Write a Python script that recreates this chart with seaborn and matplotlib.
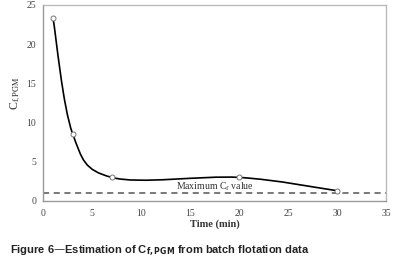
import numpy as np
import pandas as pd
import matplotlib
matplotlib.use("Agg")
import matplotlib.pyplot as plt
from matplotlib.path import Path
from matplotlib.patches import PathPatch
import seaborn as sns

# data
tiempo = [1, 3, 7, 20, 30]
cf_pgm = [23.4, 8.6, 3.0, 3.0, 1.3]
cf_max = 1.0
x_ticks = [0, 5, 10, 15, 20, 25, 30, 35]
y_ticks = [0, 5, 10, 15, 20, 25]

df = pd.DataFrame({"t": tiempo, "cf": cf_pgm})

sns.set_style("white")
plt.rcParams["font.family"] = ["Liberation Serif", "DejaVu Serif"]
plt.rcParams["mathtext.fontset"] = "stix"

fig = plt.figure(figsize=(3.96, 2.76), dpi=100)
ax = fig.add_axes([0.109, 0.272, 0.866, 0.71])


# smooth line like Excel (bezier with 1/6 tangents)
def curva_suave(xs, ys):
    p = np.column_stack([xs, ys]).astype(float)
    n = len(p)
    verts = [p[0]]
    codes = [Path.MOVETO]
    for i in range(n - 1):
        p0 = p[i - 1] if i > 0 else p[i]
        p3 = p[i + 2] if i + 2 < n else p[i + 1]
        c1 = p[i] + (p[i + 1] - p0) / 6
        c2 = p[i + 1] - (p3 - p[i]) / 6
        verts += [c1, c2, p[i + 1]]
        codes += [Path.CURVE4] * 3
    return Path(verts, codes)


ax.add_patch(PathPatch(curva_suave(tiempo, cf_pgm), facecolor="none",
                       edgecolor="black", lw=1.2, zorder=3))
sns.scatterplot(data=df, x="t", y="cf", ax=ax, marker="o", s=13,
                facecolor="white", edgecolor="#777777", linewidth=0.7, zorder=4)

ax.axhline(cf_max, color="#555555", lw=1.1, ls=(0, (4, 3)), zorder=2)
ax.text(17.5, cf_max + 0.05, "Maximum C$_\\mathrm{f}$ value", ha="center", va="bottom",
        fontsize=7, color="#333333")

ax.set_xlim(0, 35)
ax.set_ylim(0, 25)
ax.set_xticks(x_ticks)
ax.set_yticks(y_ticks)
ax.tick_params(axis="both", labelsize=7, colors="#444444", length=3, width=0.6,
               direction="out", pad=2)
ax.tick_params(axis="x", pad=3)
for s in ax.spines.values():
    s.set_color("#bbbbbb")
    s.set_linewidth(1.0)
ax.spines["left"].set_color("#999999")
ax.spines["bottom"].set_color("#999999")

ax.set_xlabel("Time (min)", fontsize=7.5, fontweight="bold", color="#333333", labelpad=1)
ax.set_ylabel("C$_\\mathrm{f,PGM}$", fontsize=8.5, color="#333333", labelpad=2)
ax.yaxis.set_label_coords(-0.06, 0.55)

fig.text(0.025, 0.09, "Figure 6\u2014Estimation of C$_{\\mathbf{f,PGM}}$ from batch flotation data",
         fontsize=8, fontweight="bold", family=["Liberation Sans", "DejaVu Sans"],
         math_fontfamily="dejavusans", color="#222222", va="center")

fig.savefig("out.png", dpi=100)
